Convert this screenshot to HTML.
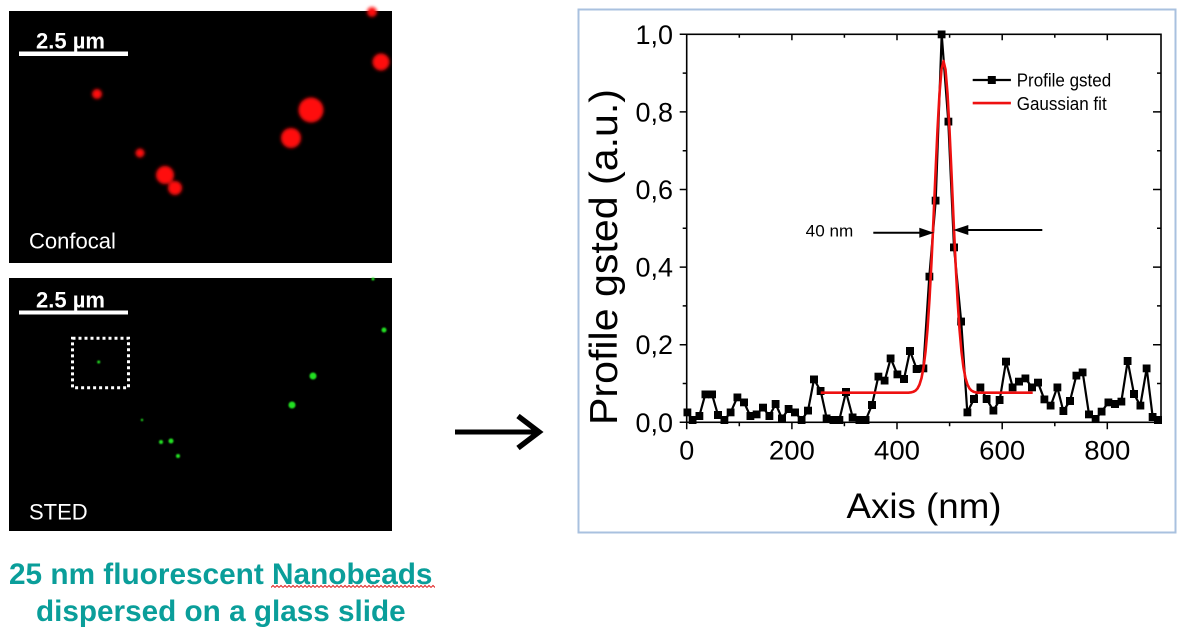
<!DOCTYPE html>
<html>
<head>
<meta charset="utf-8">
<style>
html,body{margin:0;padding:0;background:#fff;}
svg{display:block;}
text{font-family:"Liberation Sans",Arial,sans-serif;}
</style>
</head>
<body>
<svg width="1193" height="628" viewBox="0 0 1193 628" xmlns="http://www.w3.org/2000/svg">
<defs>
<filter id="b1" x="-1" y="-1" width="3" height="3"><feGaussianBlur stdDeviation="1.6"/></filter>
<filter id="b2" x="-1" y="-1" width="3" height="3"><feGaussianBlur stdDeviation="0.7"/></filter>
<marker id="sq" markerUnits="userSpaceOnUse" markerWidth="8" markerHeight="8" refX="4" refY="4" viewBox="0 0 8 8">
<rect x="0" y="0" width="8" height="8" fill="#000"/>
</marker>
<pattern id="wave" x="271" y="584.5" width="4" height="4" patternUnits="userSpaceOnUse">
<path d="M0,3 L2,1 L4,3" fill="none" stroke="#e02020" stroke-width="1"/>
</pattern>
</defs>
<rect width="1193" height="628" fill="#fff"/>

<!-- Confocal panel -->
<rect x="9" y="11" width="383" height="252" fill="#000"/>
<g fill="#ff1010" filter="url(#b1)">
<circle cx="97" cy="94" r="5"/>
<circle cx="140" cy="153" r="4.5"/>
<circle cx="165" cy="175" r="9"/>
<circle cx="175" cy="188" r="7"/>
<circle cx="291" cy="138" r="10"/>
<circle cx="311" cy="110" r="12.5"/>
<circle cx="381" cy="62" r="8.5"/>
<circle cx="372" cy="12" r="5"/>
</g>
<rect x="19" y="51.5" width="109" height="4.5" fill="#fff"/>
<text x="36" y="48.3" font-size="22" font-weight="bold" fill="#fff">2.5 µm</text>
<text x="29" y="248.3" font-size="22" fill="#fff">Confocal</text>

<!-- STED panel -->
<rect x="9" y="278" width="383" height="253" fill="#000"/>
<g fill="#20e020" filter="url(#b2)">
<circle cx="98.7" cy="362" r="1.5"/>
<circle cx="142" cy="420" r="1.2"/>
<circle cx="161" cy="442" r="2"/>
<circle cx="171" cy="441" r="2.5"/>
<circle cx="178" cy="456" r="2"/>
<circle cx="292" cy="405" r="3.5"/>
<circle cx="313" cy="376" r="3.5"/>
<circle cx="384" cy="330" r="2.5"/>
<circle cx="373" cy="279" r="1.5"/>
</g>
<rect x="19" y="310.5" width="109" height="4" fill="#fff"/>
<text x="36" y="307.3" font-size="22" font-weight="bold" fill="#fff">2.5 µm</text>
<text x="29" y="519.3" font-size="22" fill="#fff">STED</text>
<rect x="72.5" y="338.2" width="56" height="49.6" fill="none" stroke="#fff" stroke-width="3" stroke-dasharray="3 3"/>

<!-- Caption -->
<text x="9" y="583.8" font-size="30" font-weight="bold" fill="#0a9e9a" textLength="423.5" lengthAdjust="spacingAndGlyphs">25 nm fluorescent Nanobeads</text>
<text x="36" y="620.8" font-size="30" font-weight="bold" fill="#0a9e9a" textLength="369.7" lengthAdjust="spacingAndGlyphs">dispersed on a glass slide</text>
<rect x="271" y="584.5" width="164" height="4" fill="url(#wave)"/>

<!-- Big arrow -->
<line x1="455" y1="432" x2="537" y2="432" stroke="#000" stroke-width="5"/>
<polyline points="518,416 539,432 518,448" fill="none" stroke="#000" stroke-width="5.5"/>

<!-- Chart frame -->
<rect x="578.5" y="9.5" width="597" height="523" fill="none" stroke="#a9c1df" stroke-width="2"/>

<!-- Axes box -->
<rect x="686.7" y="34.3" width="474.3" height="388" fill="none" stroke="#000" stroke-width="1.6"/>

<!-- Ticks -->
<path stroke="#000" stroke-width="1.5" fill="none" d="
M686.7,422.3v7 M791.9,422.3v7 M897,422.3v7 M1002.2,422.3v7 M1107.3,422.3v7
M739.3,422.3v4 M844.4,422.3v4 M949.6,422.3v4 M1054.8,422.3v4
M791.9,34.3v6 M897,34.3v6 M1002.2,34.3v6 M1107.3,34.3v6
M739.3,34.3v3.5 M844.4,34.3v3.5 M949.6,34.3v3.5 M1054.8,34.3v3.5
M679.7,422.3h7 M679.7,344.7h7 M679.7,267.1h7 M679.7,189.5h7 M679.7,111.9h7 M679.7,34.3h7
M682.7,383.5h4 M682.7,305.9h4 M682.7,228.3h4 M682.7,150.7h4 M682.7,73.1h4
M1153,344.7h8 M1153,267.1h8 M1153,189.5h8 M1153,111.9h8
M1157,383.5h4 M1157,305.9h4 M1157,228.3h4 M1157,150.7h4 M1157,73.1h4"/>

<!-- Y tick labels -->
<g font-size="27" fill="#000">
<text x="635.5" y="431.8" textLength="37.5" lengthAdjust="spacingAndGlyphs">0,0</text>
<text x="635.5" y="354.2" textLength="37.5" lengthAdjust="spacingAndGlyphs">0,2</text>
<text x="635.5" y="276.6" textLength="37.5" lengthAdjust="spacingAndGlyphs">0,4</text>
<text x="635.5" y="199" textLength="37.5" lengthAdjust="spacingAndGlyphs">0,6</text>
<text x="635.5" y="121.4" textLength="37.5" lengthAdjust="spacingAndGlyphs">0,8</text>
<text x="635.5" y="43.8" textLength="37.5" lengthAdjust="spacingAndGlyphs">1,0</text>
</g>
<!-- X tick labels -->
<g font-size="27" fill="#000">
<text x="679.2" y="459.5" textLength="15" lengthAdjust="spacingAndGlyphs">0</text>
<text x="768.9" y="459.5" textLength="46" lengthAdjust="spacingAndGlyphs">200</text>
<text x="874" y="459.5" textLength="46" lengthAdjust="spacingAndGlyphs">400</text>
<text x="979.2" y="459.5" textLength="46" lengthAdjust="spacingAndGlyphs">600</text>
<text x="1084.3" y="459.5" textLength="46" lengthAdjust="spacingAndGlyphs">800</text>
</g>

<!-- Axis titles -->
<text x="846.5" y="518" font-size="35" fill="#000" textLength="155" lengthAdjust="spacingAndGlyphs">Axis (nm)</text>
<text transform="translate(617,425) rotate(-90)" x="0" y="0" font-size="39" fill="#000" textLength="336" lengthAdjust="spacingAndGlyphs">Profile gsted (a.u.)</text>

<!-- Data line with square markers -->
<polyline fill="none" stroke="#000" stroke-width="2.2" stroke-linejoin="round" marker-start="url(#sq)" marker-mid="url(#sq)" marker-end="url(#sq)" points="687.3,412.3 692.7,420 699.3,416 705.3,394.3 712,394.3 718,415 724.3,420 730.7,412.3 737.3,397.3 744,402.3 750.3,416 756.7,414.3 763,407.7 769.3,416 775.7,404 782,418.3 788.7,409 795,412.3 801.7,420 808,410.7 814,379.3 820.7,391 826.7,418.3 833.3,420 839.3,420 846,392 852.7,417.3 859.3,420 865.7,420 872,405 878.3,376.7 884.7,380.7 890.7,358.3 897.3,374.3 904,379 910,351 916.7,369 923.3,368.3 929.3,276.7 935.7,200.7 941.7,34.3 948.3,121.7 954,247.3 961.2,321.6 967.3,412.3 974,399 980.3,387.3 986.7,399 993.3,410.7 999.7,400 1006,361.7 1012.7,387.3 1019,381.7 1025.3,378.3 1032,387.3 1038,382.7 1044.3,399.3 1050.7,405.7 1057.3,387.3 1063.3,411 1070,401 1076.3,375.7 1082.7,372.3 1089,414.3 1095.7,419 1101.7,411.7 1108.3,402.3 1115,404 1121.3,401.7 1127.7,361 1134,394 1140.3,405.7 1146.7,368.3 1152.7,417 1158,420"/>

<!-- Gaussian fit -->
<path fill="none" stroke="#ee1111" stroke-width="2.6" stroke-linejoin="round" d="M820.7,392.7 L908.5,392.7 L911.5,392.3 L913.5,391.7 L915.5,390.6 L917.5,388.5 L919.5,384.6 L921.5,378.1 L923.5,367.6 L925.5,351.7 L927.5,329.2 L929.5,299.1 L931.5,261.8 L933.5,218.8 L935.5,173.2 L937.5,129.8 L939.5,93.5 L941.5,69.5 L943.5,61 L945.5,69.5 L947.5,93.5 L949.5,129.8 L951.5,173.2 L953.5,218.8 L955.5,261.8 L957.5,299.1 L959.5,329.2 L961.5,351.7 L963.5,367.6 L965.5,378.1 L967.5,384.6 L969.5,388.5 L971.5,390.6 L973.5,391.7 L975.5,392.3 L978.5,392.7 L1032.7,392.7"/>

<!-- FWHM annotation -->
<text x="805.7" y="236.7" font-size="17" fill="#000" textLength="47.6" lengthAdjust="spacingAndGlyphs">40 nm</text>
<line x1="873.3" y1="232.7" x2="922" y2="232.7" stroke="#000" stroke-width="2"/>
<polygon points="934,232.7 919.3,227.7 919.3,237.7" fill="#000"/>
<line x1="965" y1="230" x2="1042.3" y2="230" stroke="#000" stroke-width="2"/>
<polygon points="953.3,230 968.3,225 968.3,235" fill="#000"/>

<!-- Legend -->
<line x1="972.7" y1="80" x2="1010.9" y2="80" stroke="#000" stroke-width="2.2"/>
<rect x="987.8" y="76" width="8" height="8" fill="#000"/>
<text x="1016.7" y="86.3" font-size="18" fill="#000" textLength="94.5" lengthAdjust="spacingAndGlyphs">Profile gsted</text>
<line x1="972.7" y1="103.1" x2="1010.9" y2="103.1" stroke="#ee1111" stroke-width="2.6"/>
<text x="1016.7" y="109.8" font-size="18" fill="#000" textLength="90" lengthAdjust="spacingAndGlyphs">Gaussian fit</text>
</svg>
</body>
</html>
